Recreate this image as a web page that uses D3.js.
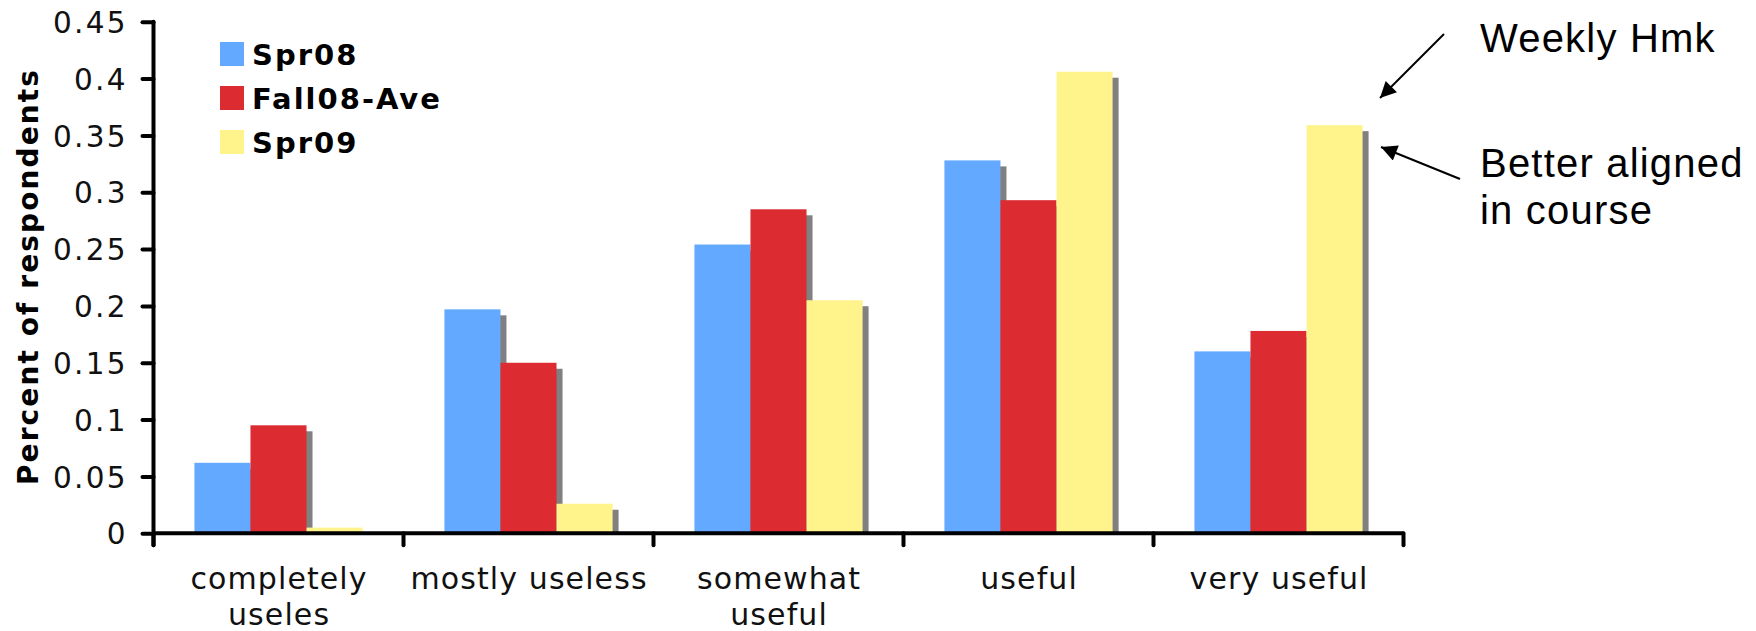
<!DOCTYPE html>
<html>
<head>
<meta charset="utf-8">
<script src="https://cdn.jsdelivr.net/npm/d3@7"></script>
<style>
  html, body { margin: 0; padding: 0; background: #fff; }
  svg { display: block; }
</style>
</head>
<body>
<svg id="chart" width="1756" height="631"></svg>
<script>
// Survey: how useful were the homework assignments
const categories = ["completely useles", "mostly useless", "somewhat useful", "useful", "very useful"];
const categoryLines = [["completely", "useles"], ["mostly useless"], ["somewhat", "useful"], ["useful"], ["very useful"]];
const seriesNames = ["Spr08", "Fall08-Ave", "Spr09"];
const spr08 = [0.062, 0.197, 0.254, 0.328, 0.160];
const fall08Ave = [0.095, 0.150, 0.285, 0.293, 0.178];
const spr09 = [0.005, 0.026, 0.205, 0.406, 0.359];
const yTickValues = [0, 0.05, 0.1, 0.15, 0.2, 0.25, 0.3, 0.35, 0.4, 0.45];
const yTickLabels = ["0", "0.05", "0.1", "0.15", "0.2", "0.25", "0.3", "0.35", "0.4", "0.45"];
const yTitle = "Percent of respondents";
const notes = [["Weekly Hmk"], ["Better aligned", "in course"]];

const seriesValues = [spr08, fall08Ave, spr09];
const colors = ["#63A9FF", "#DC2C32", "#FFF48C"];
const shadowColor = "#808080";

const svg = d3.select("#chart");
const plotLeft = 153.5, plotRight = 1403.5, plotBottom = 533.3, plotTop = 21.7;
const font = "'DejaVu Sans', Verdana, sans-serif";

const x0 = d3.scaleBand().domain(categories).range([plotLeft, plotRight]).paddingInner(0).paddingOuter(0);
const x1 = d3.scaleBand().domain(seriesNames).range([0, x0.bandwidth()]).paddingInner(0).paddingOuter(0.73);
const y = d3.scaleLinear().domain([0, 0.45]).range([plotBottom, plotTop]);
const color = d3.scaleOrdinal().domain(seriesNames).range(colors);

const rows = [];
categories.forEach((c, i) => seriesNames.forEach((s, j) => rows.push({ cat: c, series: s, value: seriesValues[j][i] })));

// drop shadows first, so every bar sits above all shadows
const sdx = 6, sdy = 6;
svg.append("g").selectAll("rect").data(rows).join("rect")
  .attr("x", d => x0(d.cat) + x1(d.series) + sdx)
  .attr("y", d => Math.min(y(d.value) + sdy, plotBottom))
  .attr("width", x1.bandwidth())
  .attr("height", d => Math.max(0, plotBottom - (y(d.value) + sdy)))
  .attr("fill", shadowColor);

svg.append("g").selectAll("rect").data(rows).join("rect")
  .attr("x", d => x0(d.cat) + x1(d.series))
  .attr("y", d => y(d.value))
  .attr("width", x1.bandwidth())
  .attr("height", d => plotBottom - y(d.value))
  .attr("fill", d => color(d.series));

// y axis
const tickLs = 2.3;
const yAxis = svg.append("g")
  .attr("transform", `translate(${plotLeft},0)`)
  .call(d3.axisLeft(y).tickValues(yTickValues)
    .tickFormat((d, i) => yTickLabels[i]).tickSize(11).tickSizeOuter(0).tickPadding(17));
yAxis.select(".domain").remove();
yAxis.selectAll(".tick line").attr("stroke", "#000").attr("stroke-width", 4).attr("stroke-linecap", "round");
yAxis.selectAll(".tick text")
  .attr("font-family", font).attr("font-size", 29.5).attr("fill", "#111")
  .attr("letter-spacing", tickLs).attr("dx", tickLs).attr("dy", "0.36em").attr("y", 0);
svg.append("line")
  .attr("x1", plotLeft).attr("x2", plotLeft).attr("y1", y(0.45)).attr("y2", plotBottom + 12)
  .attr("stroke", "#000").attr("stroke-width", 4).attr("stroke-linecap", "round");

// x axis with ticks at category boundaries
const xg = svg.append("g");
xg.append("line")
  .attr("x1", plotLeft).attr("x2", plotRight).attr("y1", plotBottom).attr("y2", plotBottom)
  .attr("stroke", "#000").attr("stroke-width", 4);
const edges = categories.map(c => x0(c)).concat([x0(categories[categories.length - 1]) + x0.bandwidth()]);
xg.selectAll("line.edge").data(edges).join("line").attr("class", "edge")
  .attr("x1", d => d).attr("x2", d => d).attr("y1", plotBottom).attr("y2", plotBottom + 12)
  .attr("stroke", "#000").attr("stroke-width", 4).attr("stroke-linecap", "round");

const catLs = 1.1;
const labels = xg.selectAll("text.cat").data(categories).join("text").attr("class", "cat")
  .attr("y", 589)
  .attr("text-anchor", "middle")
  .attr("font-family", font).attr("font-size", 30).attr("fill", "#111")
  .attr("letter-spacing", catLs);
labels.each(function (d, i) {
  const t = d3.select(this);
  const cx = x0(d) + x0.bandwidth() / 2 + catLs / 2;
  categoryLines[i].forEach((line, k) => {
    t.append("tspan").attr("x", cx).attr("dy", k === 0 ? 0 : 36).text(line);
  });
});

// y axis title
svg.append("text")
  .attr("transform", `translate(38,${(plotTop + plotBottom) / 2}) rotate(-90)`)
  .attr("text-anchor", "middle")
  .attr("font-family", font).attr("font-size", 28).attr("font-weight", "bold")
  .attr("letter-spacing", 2.1).attr("dx", 1)
  .text(yTitle);

// legend
const legend = svg.append("g").attr("transform", "translate(220,42)");
const li = legend.selectAll("g").data(seriesNames).join("g")
  .attr("transform", (d, i) => `translate(0,${i * 44})`);
li.append("rect").attr("width", 24).attr("height", 24).attr("fill", d => color(d));
li.append("text").attr("x", 32).attr("y", 23)
  .attr("font-family", font).attr("font-size", 29).attr("font-weight", "bold")
  .attr("letter-spacing", 2)
  .text(d => d);

// annotations with arrows
const defs = svg.append("defs");
defs.append("marker").attr("id", "arrowhead")
  .attr("viewBox", "0 0 10 10").attr("refX", 10).attr("refY", 5)
  .attr("markerWidth", 20).attr("markerHeight", 16).attr("markerUnits", "userSpaceOnUse")
  .attr("orient", "auto")
  .append("path").attr("d", "M0,0 L10,5 L0,10 z").attr("fill", "#000");

const arrows = [
  { x1: 1444, y1: 34, x2: 1380, y2: 98 },
  { x1: 1460, y1: 179, x2: 1381, y2: 147 }
];
svg.append("g").selectAll("line").data(arrows).join("line")
  .attr("x1", d => d.x1).attr("y1", d => d.y1).attr("x2", d => d.x2).attr("y2", d => d.y2)
  .attr("stroke", "#000").attr("stroke-width", 2)
  .attr("marker-end", "url(#arrowhead)");

const noteBaselines = [52, 177];
const nt = svg.append("g").selectAll("text").data(notes).join("text")
  .attr("x", 1480).attr("y", (d, i) => noteBaselines[i])
  .attr("font-family", "'Liberation Sans', Arial, sans-serif").attr("font-size", 40)
  .attr("letter-spacing", 1.2).attr("fill", "#000");
nt.each(function (d) {
  const t = d3.select(this);
  d.forEach((line, k) => t.append("tspan").attr("x", 1480).attr("dy", k === 0 ? 0 : 47).text(line));
});
</script>
</body>
</html>
